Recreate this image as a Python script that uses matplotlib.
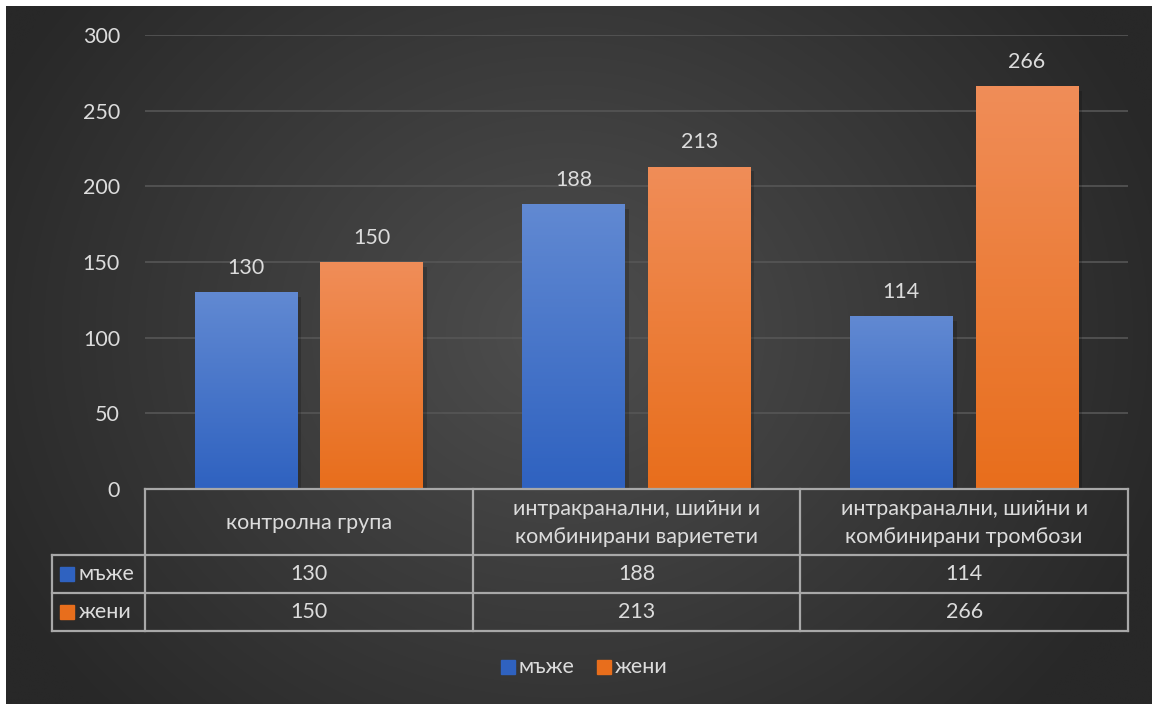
import numpy as np
import matplotlib.pyplot as plt
from matplotlib.colors import LinearSegmentedColormap

categories = ['контролна група',
              'интракранални, шийни и\nкомбинирани вариетети',
              'интракранални, шийни и\nкомбинирани тромбози']
series_names = ['мъже', 'жени']
men = [130, 188, 114]
women = [150, 213, 266]
yticks = [0, 50, 100, 150, 200, 250, 300]

W, H = 1152, 704
txt = '#dcdcdc'
line_c = '#a8a8a8'
blue_top, blue_bot = '#6189d2', '#2f62c0'
orange_top, orange_bot = '#f08d58', '#e86e1c'
fs = 15.5

plt.rcParams['font.family'] = ['Lato', 'DejaVu Sans']

fig = plt.figure(figsize=(W / 100, H / 100), dpi=100, facecolor='white')

# background panel with radial gradient, pixel coordinates
bg = fig.add_axes([0, 0, 1, 1], zorder=0)
bg.set_xlim(0, W)
bg.set_ylim(H, 0)
bg.axis('off')
yy, xx = np.mgrid[0:H, 0:W]
r = np.sqrt(((xx - 560) / 640.0) ** 2 + ((yy - 330) / 560.0) ** 2)
r = np.clip(r, 0, 1)
bg_cmap = LinearSegmentedColormap.from_list('bg', ['#4e4e4e', '#282828'])
bg.imshow(r, cmap=bg_cmap, extent=(6, W, H, 6), aspect='auto', zorder=0)

# main bar axes
left, right, top, bottom = 145, 1128, 35, 489
ax = fig.add_axes([left / W, 1 - bottom / H, (right - left) / W, (bottom - top) / H],
                  zorder=2)
ax.patch.set_alpha(0)
x = np.arange(len(categories))
bw = 0.313
off = 0.1916
bars_m = ax.bar(x - off, men, width=bw, color=blue_bot, zorder=3)
bars_w = ax.bar(x + off, women, width=bw, color=orange_bot, zorder=3)
ax.set_yticks(yticks)
ax.set_yticklabels([str(t) for t in yticks])
ax.set_xticks([])
ax.tick_params(axis='y', length=0, pad=18, colors=txt, labelsize=fs)
for s in ax.spines.values():
    s.set_visible(False)
ax.grid(axis='y', color='#565656', linewidth=1.2, zorder=0)
ax.set_axisbelow(True)

grad = np.linspace(0, 1, 100).reshape(-1, 1)
for bars, vals, c0, c1 in [(bars_m, men, blue_top, blue_bot),
                           (bars_w, women, orange_top, orange_bot)]:
    cmap = LinearSegmentedColormap.from_list('g', [c0, c1])
    for b, v in zip(bars, vals):
        bx, bwid = b.get_x(), b.get_width()
        # soft shadow
        ax.bar(bx + bwid / 2 + 0.012, v, width=bwid, bottom=-3, color='black',
               alpha=0.18, zorder=2)
        im = ax.imshow(grad, cmap=cmap, extent=(bx, bx + bwid, 0, v),
                       aspect='auto', zorder=4)
        im.set_clip_path(b)
        ax.text(bx + bwid / 2, v + 16, str(v), ha='center', va='center',
                color=txt, fontsize=fs, zorder=5)
ax.set_aspect('auto')
ax.set_xlim(-0.5, len(categories) - 0.5)
ax.set_ylim(0, 300)

# data table beneath the plot, drawn in pixel coords
tb = fig.add_axes([0, 0, 1, 1], zorder=3)
tb.set_xlim(0, W)
tb.set_ylim(H, 0)
tb.axis('off')
col_edges = np.linspace(left, right, len(categories) + 1)
row_y = [489, 555, 593, 631]
lab_left = 52
lw = 1.6
tb.plot([left, right], [row_y[0], row_y[0]], color=line_c, lw=lw)
for ry in row_y[1:]:
    tb.plot([lab_left, right], [ry, ry], color=line_c, lw=lw)
for cx in col_edges:
    tb.plot([cx, cx], [row_y[0], row_y[-1]], color=line_c, lw=lw)
tb.plot([lab_left, lab_left], [row_y[1], row_y[-1]], color=line_c, lw=lw)

for i, cat in enumerate(categories):
    cx = (col_edges[i] + col_edges[i + 1]) / 2
    tb.text(cx, (row_y[0] + row_y[1]) / 2 + 1, cat, ha='center', va='center',
            color=txt, fontsize=fs, linespacing=1.5)
    for j, vals in enumerate([men, women]):
        tb.text(cx, (row_y[j + 1] + row_y[j + 2]) / 2, str(vals[i]),
                ha='center', va='center', color=txt, fontsize=fs)

for j, (name, col) in enumerate(zip(series_names, [blue_bot, orange_bot])):
    cy = (row_y[j + 1] + row_y[j + 2]) / 2
    tb.add_patch(plt.Rectangle((60, cy - 7), 14, 14, color=col))
    tb.text(79, cy, name, ha='left', va='center', color=txt, fontsize=fs)

# legend
lx = [501, 597]
for name, col, px in zip(series_names, [blue_bot, orange_bot], lx):
    tb.add_patch(plt.Rectangle((px, 660), 14, 14, color=col))
    tb.text(px + 18, 667, name, ha='left', va='center', color=txt, fontsize=fs)

fig.savefig('out.png', dpi=100, facecolor='white')
